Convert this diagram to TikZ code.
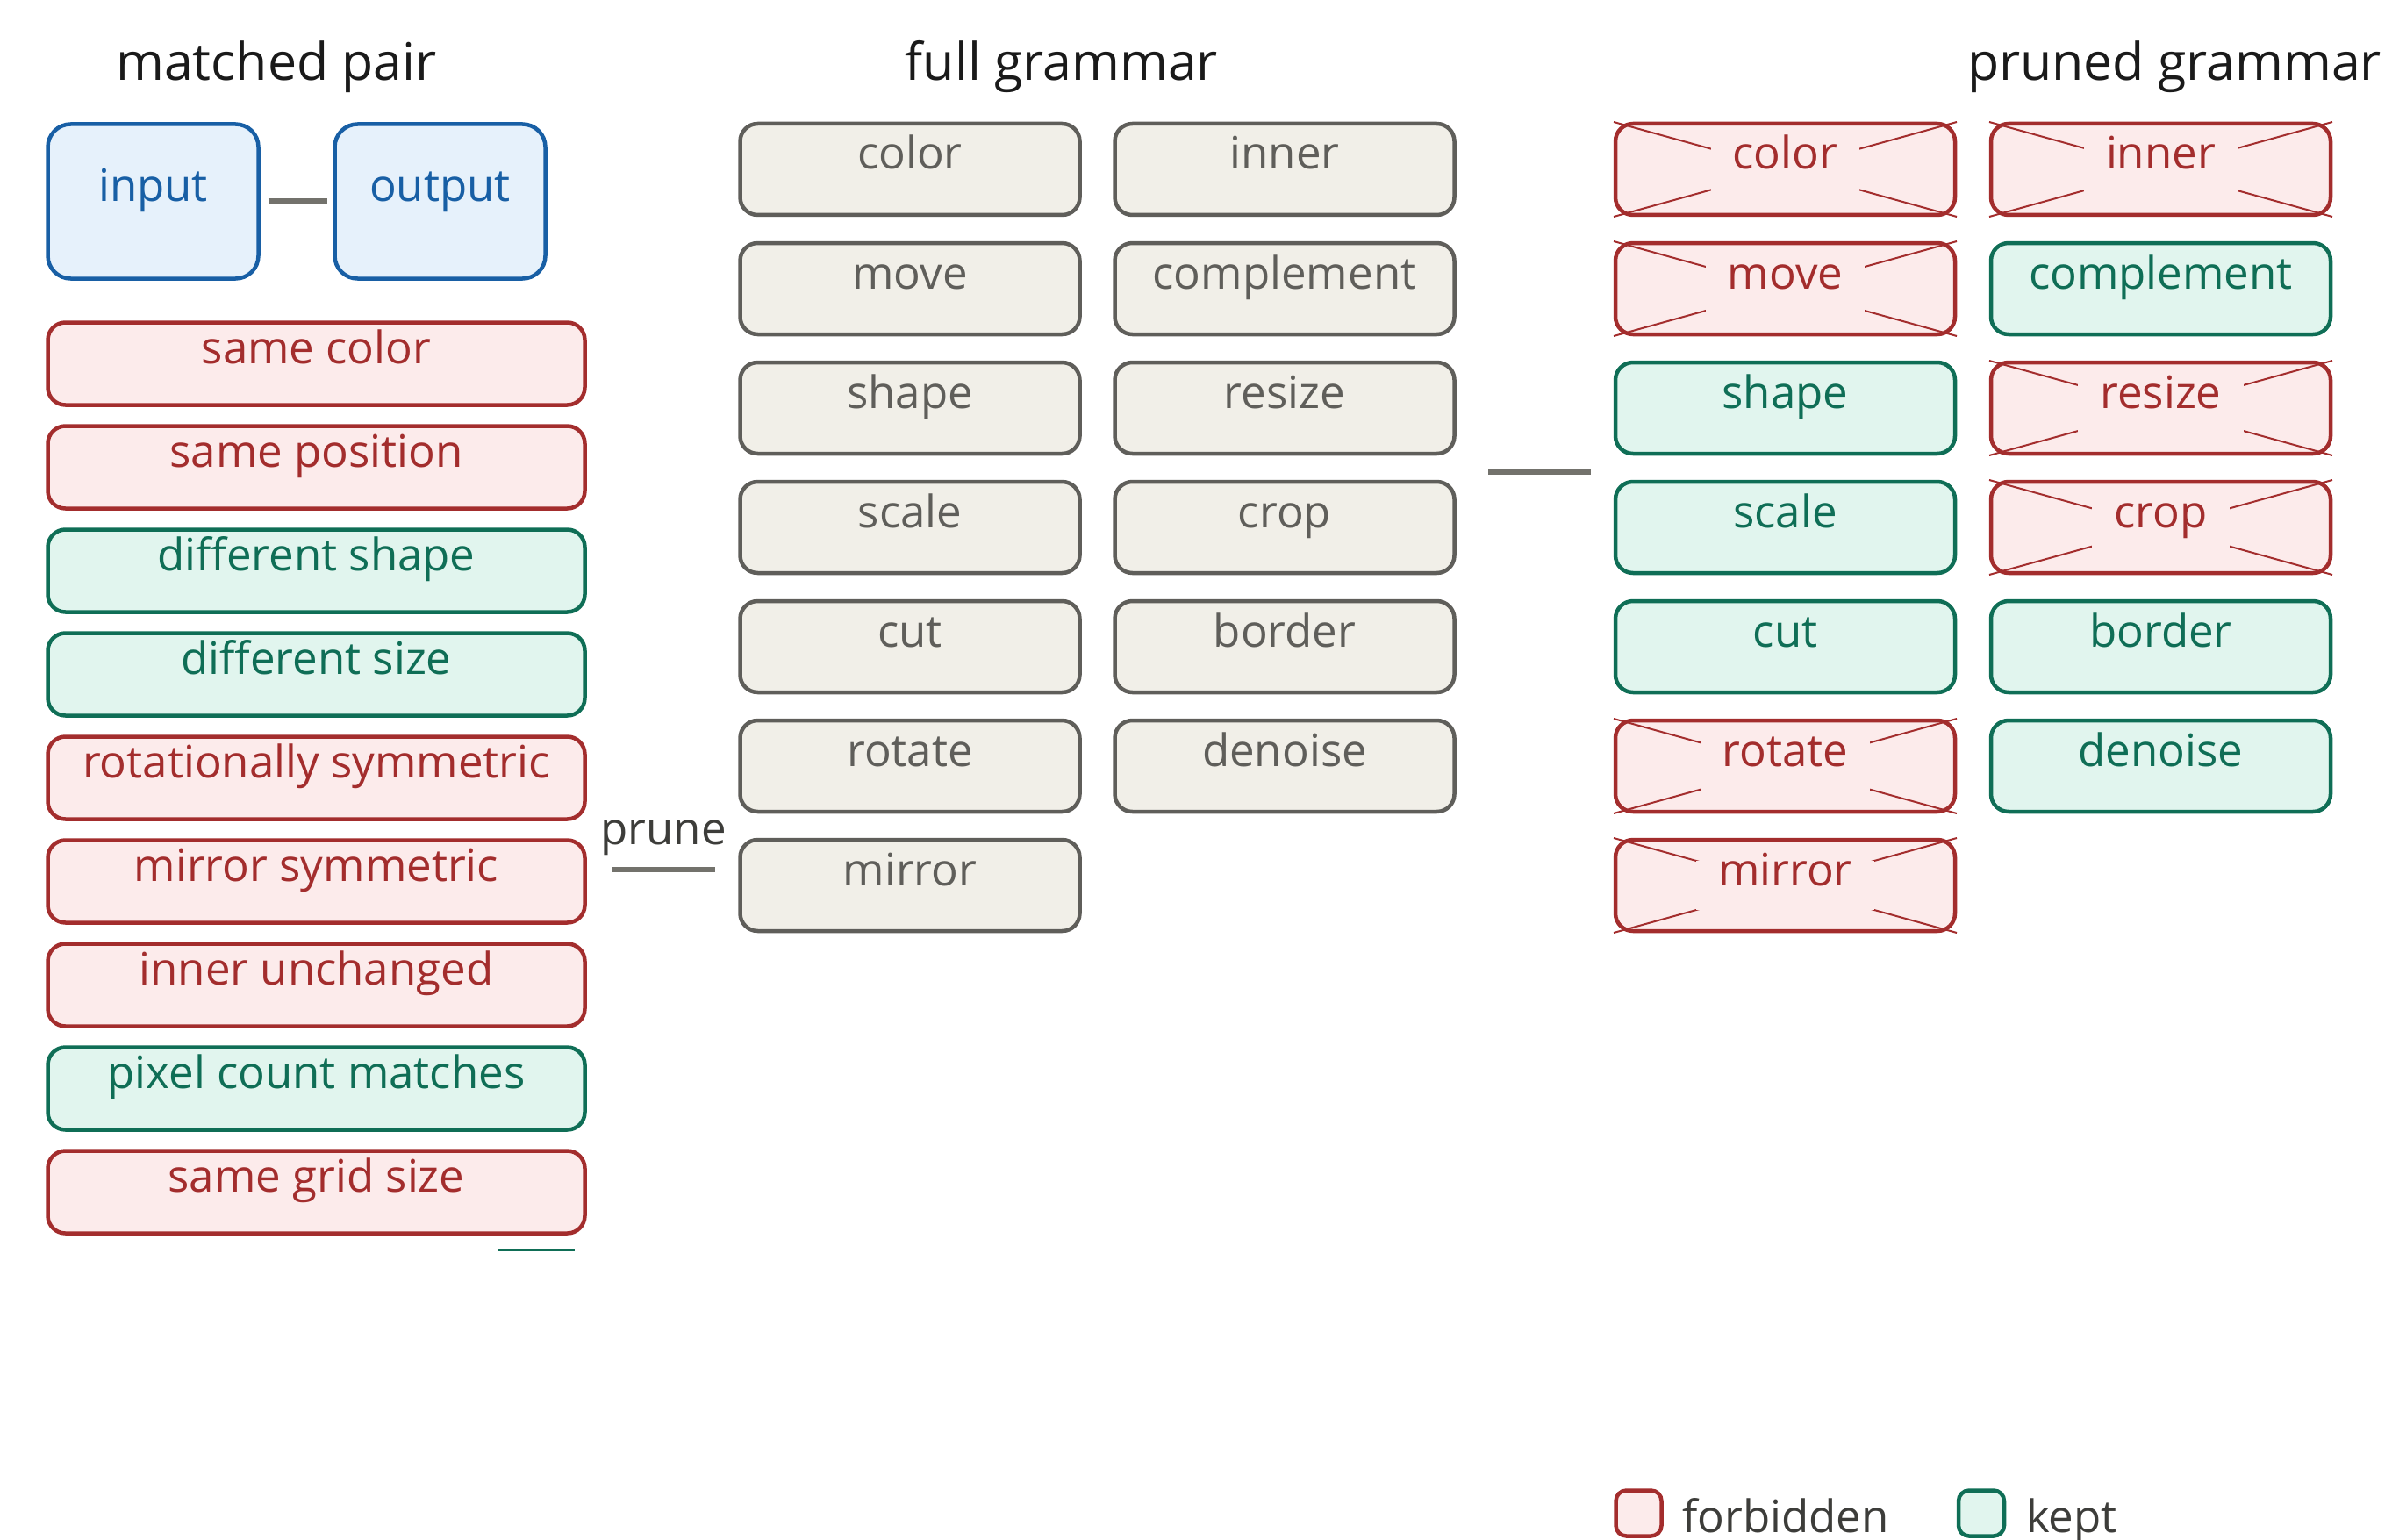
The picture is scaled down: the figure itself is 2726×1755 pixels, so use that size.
\documentclass[tikz,border=0pt]{standalone}
\usepackage{fontspec}
\setmainfont{Open Sans}
\definecolor{redS}{HTML}{A32D2D}
\definecolor{redF}{HTML}{FCEBEB}
\definecolor{grnS}{HTML}{0F6E56}
\definecolor{grnF}{HTML}{E1F5EE}
\definecolor{grayS}{HTML}{5F5E5A}
\definecolor{grayF}{HTML}{F1EFE8}
\definecolor{bluS}{HTML}{185FA5}
\definecolor{bluF}{HTML}{E6F1FB}
\definecolor{conn}{HTML}{73726C}
\definecolor{darkT}{HTML}{3D3D3A}
\definecolor{titleT}{HTML}{1A1A1A}
\newcommand\lblfont{\fontsize{51}{60}\selectfont}
\newcommand\ttlfont{\fontsize{59}{70}\selectfont}
\tikzset{
  bx/.style={draw, line width=4.5pt, rounded corners=20pt, inner sep=0pt, outer sep=0pt},
  forb/.style={bx, draw=redS, fill=redF},
  kept/.style={bx, draw=grnS, fill=grnF},
  gray/.style={bx, draw=grayS, fill=grayF},
  blu/.style={bx, draw=bluS, fill=bluF, rounded corners=26pt},
  forbT/.style={text=redS},
  keptT/.style={text=grnS},
  grayT/.style={text=grayS},
  bluT/.style={text=bluS},
  lbl/.style={anchor=base, inner sep=0pt, font=\lblfont},
  mask/.style={lbl, fill=redF, inner xsep=25pt, text height=28pt, text depth=28pt},
  crossline/.style={draw=redS, line width=2pt},
  ttl/.style={anchor=base, inner sep=0pt, font=\ttlfont, text=titleT},
  connector/.style={draw=conn, line width=6pt},
  legtxt/.style={anchor=base west, inner sep=0pt, font=\lblfont, text=darkT}
}
% name, cx, cy, w, h, kind, text
\newcommand\mybox[7]{%
  \node[#6, minimum width=#4pt, minimum height=#5pt] (#1) at (#2,#3) {};
  \node[lbl, #6T] (#1-t) at (#2,#3) {#7};
}
% crossed (forbidden) box: name, cx, cy, text
\newcommand\xbox[4]{%
  \node[forb, minimum width=387pt, minimum height=104pt] (#1) at (#2,#3) {};
  \draw[crossline] ([shift={(-2,-2)}]#1.north west) -- ([shift={(2,2)}]#1.south east);
  \draw[crossline] ([shift={(2,-2)}]#1.north east) -- ([shift={(-2,2)}]#1.south west);
  \node[mask, forbT] (#1-t) at (#2,#3) {#4};
}
\begin{document}
\begin{tikzpicture}[x=1pt, y=-1pt]
\useasboundingbox (0,0) rectangle (2726,1755);

% titles
\node[ttl] (t1) at (315,92) {matched pair};
\node[ttl] (t2) at (1210,92) {full grammar};
\node[ttl] (t3) at (2478,92) {pruned grammar};

% matched pair
\mybox{in}{174.5}{229.5}{240}{176}{blu}{input}
\mybox{out}{501.5}{229.5}{240}{176}{blu}{output}
\draw[connector, shorten <=11pt, shorten >=9pt] (in.east) -- (out.west);

% properties
\mybox{p1}{360.5}{414.5}{612}{94}{forb}{same color}
\mybox{p2}{360.5}{532.5}{612}{94}{forb}{same position}
\mybox{p3}{360.5}{650.5}{612}{94}{kept}{different shape}
\mybox{p4}{360.5}{768.5}{612}{94}{kept}{different size}
\mybox{p5}{360.5}{886.5}{612}{94}{forb}{rotationally symmetric}
\mybox{p6}{360.5}{1004.5}{612}{94}{forb}{mirror symmetric}
\mybox{p7}{360.5}{1122.5}{612}{94}{forb}{inner unchanged}
\mybox{p8}{360.5}{1240.5}{612}{94}{kept}{pixel count matches}
\mybox{p9}{360.5}{1358.5}{612}{94}{forb}{same grid size}
\fill[grnS] (567,1422.5) rectangle (655,1425.5);

% prune connector
\coordinate (pa) at (697,991);
\coordinate (pb) at (815,991);
\draw[connector] (pa) -- (pb) node[midway, anchor=base, yshift=29pt, inner sep=0pt, font=\lblfont, text=darkT] (prune) {prune};

% full grammar
\mybox{g1}{1037}{193}{387}{104}{gray}{color}
\mybox{g2}{1037}{329}{387}{104}{gray}{move}
\mybox{g3}{1037}{465}{387}{104}{gray}{shape}
\mybox{g4}{1037}{601}{387}{104}{gray}{scale}
\mybox{g5}{1037}{737}{387}{104}{gray}{cut}
\mybox{g6}{1037}{873}{387}{104}{gray}{rotate}
\mybox{g7}{1037}{1009}{387}{104}{gray}{mirror}
\mybox{h1}{1464}{193}{387}{104}{gray}{inner}
\mybox{h2}{1464}{329}{387}{104}{gray}{complement}
\mybox{h3}{1464}{465}{387}{104}{gray}{resize}
\mybox{h4}{1464}{601}{387}{104}{gray}{crop}
\mybox{h5}{1464}{737}{387}{104}{gray}{border}
\mybox{h6}{1464}{873}{387}{104}{gray}{denoise}

% connector to pruned
\coordinate (qa) at (1696,538);
\coordinate (qb) at (1813,538);
\draw[connector] (qa) -- (qb);

% pruned grammar
\xbox{r1}{2034.5}{193}{color}
\xbox{r2}{2034.5}{329}{move}
\mybox{r3}{2034.5}{465}{387}{104}{kept}{shape}
\mybox{r4}{2034.5}{601}{387}{104}{kept}{scale}
\mybox{r5}{2034.5}{737}{387}{104}{kept}{cut}
\xbox{r6}{2034.5}{873}{rotate}
\xbox{r7}{2034.5}{1009}{mirror}
\xbox{s1}{2462.5}{193}{inner}
\mybox{s2}{2462.5}{329}{387}{104}{kept}{complement}
\xbox{s3}{2462.5}{465}{resize}
\xbox{s4}{2462.5}{601}{crop}
\mybox{s5}{2462.5}{737}{387}{104}{kept}{border}
\mybox{s6}{2462.5}{873}{387}{104}{kept}{denoise}

% legend
\node[forb, rounded corners=12pt, minimum size=52pt] (lf) at (1867.5,1724.5) {};
\node[legtxt] (lft) at (1917,1746) {forbidden};
\node[kept, rounded corners=12pt, minimum size=52pt] (lk) at (2258,1724.5) {};
\node[legtxt] (lkt) at (2309,1746) {kept};
\end{tikzpicture}
\end{document}
